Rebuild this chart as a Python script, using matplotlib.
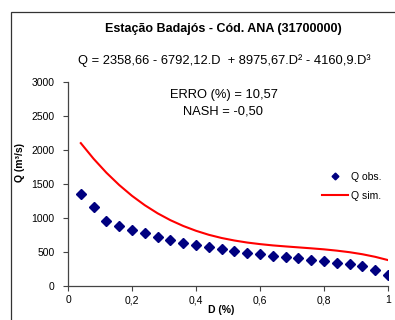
import matplotlib
matplotlib.use("Agg")
import matplotlib.pyplot as plt
from matplotlib.patches import Rectangle

plt.rcParams['font.family'] = ['Liberation Sans', 'DejaVu Sans']

# dados observados / simulados
D = [0.04, 0.08, 0.12, 0.16, 0.20, 0.24, 0.28, 0.32, 0.36, 0.40, 0.44, 0.48,
     0.52, 0.56, 0.60, 0.64, 0.68, 0.72, 0.76, 0.80, 0.84, 0.88, 0.92, 0.96, 1.00]
Q_obs = [1348, 1166, 956, 887, 828, 779, 725, 672, 637, 608, 578, 544,
         520, 490, 470, 446, 426, 407, 387, 368, 343, 324, 294, 240, 158]
Q_sim = [2101, 1871, 1666, 1485, 1326, 1188, 1069, 968, 883, 812, 753, 706,
         669, 639, 616, 597, 582, 568, 554, 539, 520, 497, 467, 429, 381]

x_ticks = [0, 0.2, 0.4, 0.6, 0.8, 1.0]
x_ticklabels = ['0', '0,2', '0,4', '0,6', '0,8', '1']
y_ticks = [0, 500, 1000, 1500, 2000, 2500, 3000]

titulo = 'Estação Badajós - Cód. ANA (31700000)'
equacao = 'Q = 2358,66 - 6792,12.D  + 8975,67.D² - 4160,9.D³'
erro = 'ERRO (%) = 10,57'
nash = 'NASH = -0,50'

W, H = 395, 320
fig = plt.figure(figsize=(W / 100, H / 100), dpi=100)
fig.patches.append(Rectangle((10.5 / W, -0.1), 1.2, 1 - 12 / H + 0.1,
                             transform=fig.transFigure, fill=False,
                             edgecolor='#333333', linewidth=0.9))

ax = fig.add_axes([68 / W, 1 - 286 / H, 320 / W, 204 / H])
ax.plot(D, Q_obs, linestyle='none', marker='D', markersize=4.6,
        color='#000080', label='Q obs.')
ax.plot(D, Q_sim, color='red', linewidth=1.5, label='Q sim.')

ax.set_xlim(0, 1)
ax.set_ylim(0, 3000)
ax.set_xticks(x_ticks)
ax.set_xticklabels(x_ticklabels)
ax.set_yticks(y_ticks)
for s in ['top', 'right']:
    ax.spines[s].set_visible(False)
for s in ['left', 'bottom']:
    ax.spines[s].set_color('#444444')
    ax.spines[s].set_linewidth(0.9)
ax.tick_params(labelsize=7.5, length=3.5, width=0.8, color='#444444')
ax.tick_params(axis='y', pad=6)
ax.tick_params(axis='x', pad=3)

fig.text(221 / W, 1 - 310 / H, 'D (%)', ha='center', va='center',
         fontsize=7.5, fontweight='bold')
fig.text(20 / W, 1 - 163 / H, 'Q (m³/s)', ha='center', va='center',
         fontsize=7.5, fontweight='bold', rotation=90)

fig.text(223 / W, 1 - 29 / H, titulo, ha='center', va='center',
         fontsize=9, fontweight='bold')
fig.text(224 / W, 1 - 61 / H, equacao, ha='center', va='center',
         fontsize=9.3)
fig.text(224 / W, 1 - 95 / H, erro, ha='center', va='center', fontsize=9.3)
fig.text(223 / W, 1 - 112 / H, nash, ha='center', va='center', fontsize=9.3)

leg = ax.legend(loc='upper left', bbox_to_anchor=(0.794, 0.56), frameon=False,
                fontsize=7.5, handlelength=2.5, handletextpad=0.25,
                labelspacing=0.85, borderpad=0, borderaxespad=0,
                markerscale=0.75)

fig.savefig('out.png', dpi=100)
